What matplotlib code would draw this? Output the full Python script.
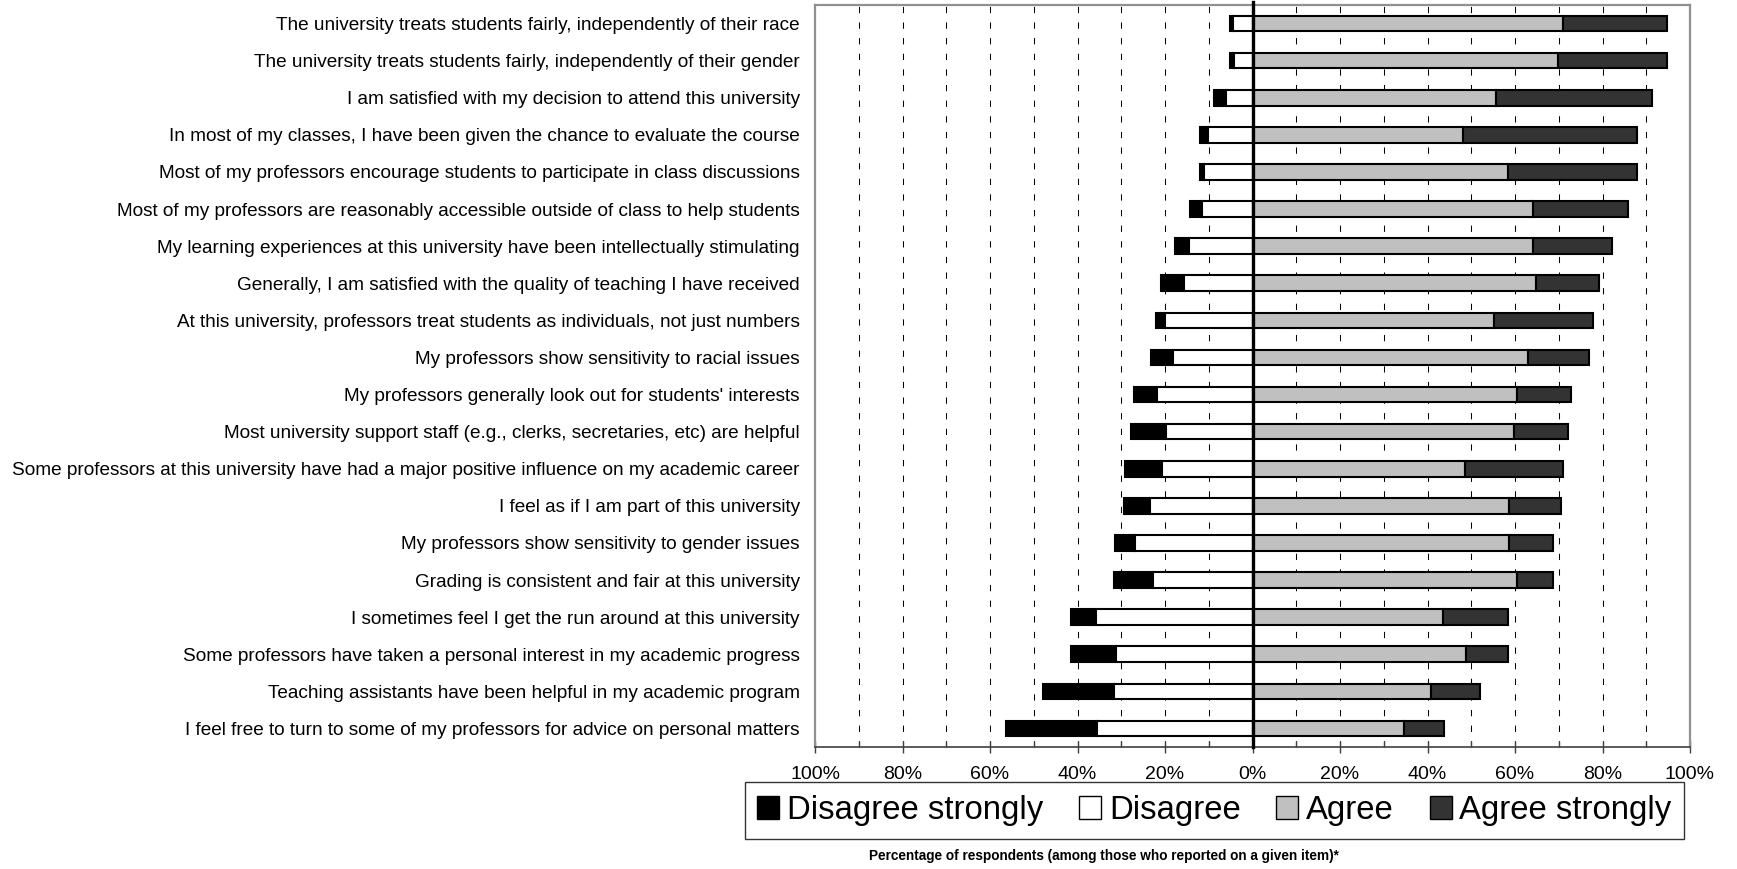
import numpy as np
import matplotlib
matplotlib.use("Agg")
import matplotlib.pyplot as plt
from matplotlib.patches import Patch
from matplotlib.ticker import FuncFormatter, MultipleLocator

plt.rcParams["font.family"] = ["Liberation Sans", "DejaVu Sans"]

items = [
    "The university treats students fairly, independently of their race",
    "The university treats students fairly, independently of their gender",
    "I am satisfied with my decision to attend this university",
    "In most of my classes, I have been given the chance to evaluate the course",
    "Most of my professors encourage students to participate in class discussions",
    "Most of my professors are reasonably accessible outside of class to help students",
    "My learning experiences at this university have been intellectually stimulating",
    "Generally, I am satisfied with the quality of teaching I have received",
    "At this university, professors treat students as individuals, not just numbers",
    "My professors show sensitivity to racial issues",
    "My professors generally look out for students' interests",
    "Most university support staff (e.g., clerks, secretaries, etc) are helpful",
    "Some professors at this university have had a major positive influence on my academic career",
    "I feel as if I am part of this university",
    "My professors show sensitivity to gender issues",
    "Grading is consistent and fair at this university",
    "I sometimes feel I get the run around at this university",
    "Some professors have taken a personal interest in my academic progress",
    "Teaching assistants have been helpful in my academic program",
    "I feel free to turn to some of my professors for advice on personal matters",
]

disagree_strongly = [0.7, 1.0, 2.7, 2.0, 1.0, 2.7, 3.1, 5.2, 2.0, 4.9,
                     5.3, 8.0, 8.5, 6.0, 4.6, 8.8, 5.8, 10.5, 16.4, 20.7]
disagree = [4.5, 4.2, 6.0, 10.1, 11.1, 11.5, 14.6, 15.7, 20.1, 18.2,
            21.9, 19.8, 20.7, 23.4, 26.8, 22.8, 35.8, 31.1, 31.6, 35.6]
agree = [71.0, 69.9, 55.6, 48.1, 58.5, 64.0, 64.0, 64.8, 55.3, 63.0,
         60.4, 59.7, 48.5, 58.7, 58.7, 60.5, 43.6, 48.7, 40.8, 34.7]
agree_strongly = [23.7, 24.8, 35.7, 39.7, 29.3, 21.8, 18.2, 14.3, 22.6, 13.9,
                  12.5, 12.5, 22.4, 11.9, 9.9, 8.1, 14.9, 9.8, 11.2, 9.0]

series_names = ["Disagree strongly", "Disagree", "Agree", "Agree strongly"]
series_colors = ["#000000", "#ffffff", "#c0c0c0", "#333333"]

ds = np.array(disagree_strongly)
d = np.array(disagree)
a = np.array(agree)
s = np.array(agree_strongly)
y = np.arange(len(items))

W, H = 1737, 869
fig = plt.figure(figsize=(W / 100, H / 100), dpi=100)
ax = fig.add_axes([815 / W, 1 - 747 / H, (1690 - 815) / W, (747 - 5) / H])

bar_h = 0.42
edge = dict(edgecolor="black", linewidth=1.5, zorder=2)
ax.barh(y, ds, left=-(ds + d), height=bar_h, color=series_colors[0], **edge)
ax.barh(y, d, left=-d, height=bar_h, color=series_colors[1], **edge)
ax.barh(y, a, left=0, height=bar_h, color=series_colors[2], **edge)
ax.barh(y, s, left=a, height=bar_h, color=series_colors[3], **edge)

# dashed vertical gridlines every 10%
for gx in np.arange(-90, 100, 10):
    if gx != 0:
        ax.axvline(gx, color="black", linewidth=0.75,
                   linestyle=(0, (6, 9)), zorder=0.5)
ax.axvline(0, ymin=0, ymax=1.004, color="black", linewidth=2.4, zorder=3,
           clip_on=False)

ax.set_xlim(-100, 100)
ax.set_ylim(len(items) - 0.5, -0.5)
ax.set_yticks(y)
ax.set_yticklabels(items, fontsize=13.7)
ax.tick_params(axis="y", length=0, pad=11)

ax.xaxis.set_major_locator(MultipleLocator(20))
ax.xaxis.set_minor_locator(MultipleLocator(10))
ax.xaxis.set_major_formatter(FuncFormatter(lambda v, p: f"{abs(v):.0f}%"))
ax.tick_params(axis="x", which="major", direction="inout", length=8,
               width=1, labelsize=14, pad=9.5, color="#404040")
ax.tick_params(axis="x", which="minor", direction="in", length=4,
               width=1, color="#404040")

for side in ("left", "top", "right"):
    ax.spines[side].set_color("#909090")
    ax.spines[side].set_linewidth(1.6)
ax.spines["bottom"].set_color("#404040")
ax.spines["bottom"].set_linewidth(1.2)

handles = [Patch(facecolor=c, edgecolor="black", linewidth=1.0) for c in series_colors]
leg = fig.legend(handles, series_names, loc="center",
                 bbox_to_anchor=(1214.5 / W, 1 - 810.5 / H),
                 ncol=4, fontsize=23.7,
                 handlelength=0.67, handleheight=0.67, handletextpad=0.23,
                 columnspacing=1.09, borderpad=0.38, borderaxespad=0,
                 frameon=True, fancybox=False, shadow=False)
leg.get_frame().set_edgecolor("black")
leg.get_frame().set_linewidth(1.0)

fig.text(1103.5 / W, 1 - 856 / H,
         "Percentage of respondents (among those who reported on a given item)*",
         ha="center", va="center", fontsize=9.8, fontweight="bold")

fig.savefig("out.png", dpi=100, facecolor="white")
